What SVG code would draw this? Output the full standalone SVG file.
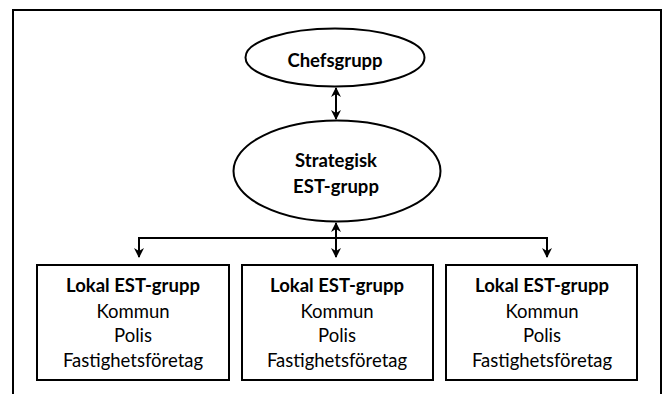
<svg xmlns="http://www.w3.org/2000/svg" width="662" height="394" viewBox="0 0 662 394">
<defs>
<style>
.shape{fill:#fff;stroke:#000;stroke-width:2}
.conn{stroke:#000;stroke-width:2;fill:none}
.t{font-family:Lato,"Open Sans","Liberation Sans",sans-serif;font-size:18.5px;fill:#000;text-anchor:middle}
.b{font-weight:bold}
</style>
<marker id="ah" viewBox="0 0 10 10" refX="9" refY="5" markerWidth="5" markerHeight="5" orient="auto-start-reverse" markerUnits="strokeWidth">
<path d="M0,0 L10,5 L0,10 L3,5 z" fill="#000"/>
</marker>
</defs>
<rect width="662" height="394" fill="#fff"/>
<rect x="13" y="10" width="648" height="400" fill="none" stroke="#000" stroke-width="2"/>
<g id="chefsgrupp">
<ellipse class="shape" cx="335" cy="57.5" rx="89.5" ry="29"/>
<text class="t b" x="335" y="67">Chefsgrupp</text>
</g>
<g id="strategisk">
<ellipse class="shape" cx="337" cy="171" rx="103.5" ry="50.5"/>
<text class="t b" x="336" y="166.5">Strategisk</text>
<text class="t b" x="336" y="193">EST-grupp</text>
</g>
<g id="lokal1">
<rect class="shape" x="37" y="265" width="192" height="115"/>
<text class="t b" x="133" y="292">Lokal EST-grupp</text>
<text class="t" x="133" y="318">Kommun</text>
<text class="t" x="133" y="342">Polis</text>
<text class="t" x="133" y="367">Fastighetsföretag</text>
</g>
<g id="lokal2">
<rect class="shape" x="242" y="265" width="191" height="115"/>
<text class="t b" x="337" y="292">Lokal EST-grupp</text>
<text class="t" x="337" y="318">Kommun</text>
<text class="t" x="337" y="342">Polis</text>
<text class="t" x="337" y="367">Fastighetsföretag</text>
</g>
<g id="lokal3">
<rect class="shape" x="446" y="265" width="191" height="115"/>
<text class="t b" x="542" y="292">Lokal EST-grupp</text>
<text class="t" x="542" y="318">Kommun</text>
<text class="t" x="542" y="342">Polis</text>
<text class="t" x="542" y="367">Fastighetsföretag</text>
</g>
<g id="connectors">
<line class="conn" x1="336" y1="88" x2="336" y2="119" marker-start="url(#ah)" marker-end="url(#ah)"/>
<line class="conn" x1="336" y1="223" x2="336" y2="257" marker-start="url(#ah)" marker-end="url(#ah)"/>
<polyline class="conn" points="139,257 139,238 547,238 547,257" marker-end="url(#ah)"/>
<line class="conn" x1="139" y1="240" x2="139" y2="257" marker-end="url(#ah)"/>
</g>
</svg>
